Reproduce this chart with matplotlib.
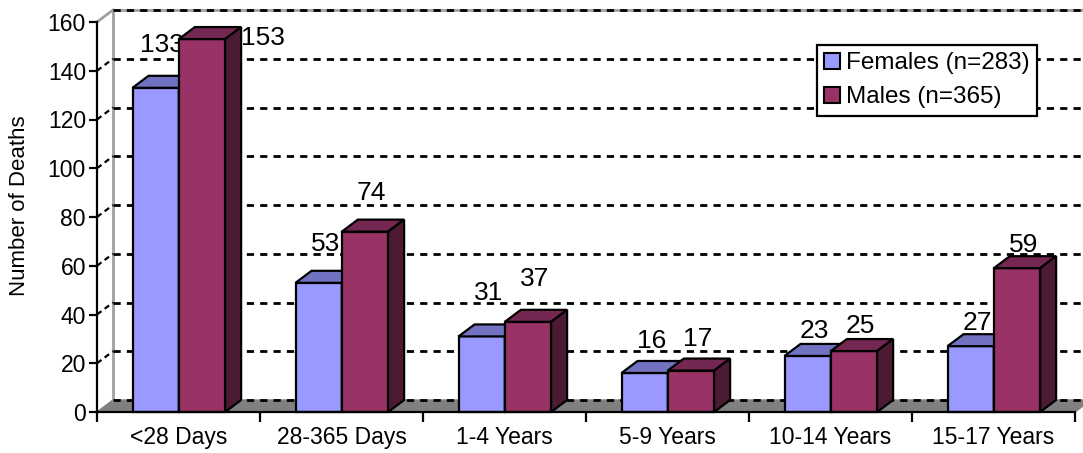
import matplotlib
matplotlib.use("Agg")
import matplotlib.pyplot as plt
from matplotlib.patches import Polygon, Rectangle

plt.rcParams['font.family'] = ['Liberation Sans', 'DejaVu Sans']

# data
categories = ["<28 Days", "28-365 Days", "1-4 Years", "5-9 Years", "10-14 Years", "15-17 Years"]
females = [133, 53, 31, 16, 23, 27]
males = [153, 74, 37, 17, 25, 59]
female_label = "Females (n=283)"
male_label = "Males (n=365)"
y_ticks = [0, 20, 40, 60, 80, 100, 120, 140, 160]

# colours
fem_front, fem_top, fem_side = "#9999FF", "#7272C2", "#4C4C80"
mal_front, mal_top, mal_side = "#993366", "#742851", "#4D1A33"

W, H = 1083, 453
fig = plt.figure(figsize=(W / 100, H / 100), dpi=100)
ax = fig.add_axes([97 / W, 41 / H, 978 / W, 390 / H])
ax.set_xlim(0, len(categories))
ax.set_ylim(0, 160)

# fake 3d depth (in data units)
dx = 16 / 163
dy = 12 / 2.4375
n = len(categories)

# floor
ax.add_patch(Polygon([(0, 0), (n, 0), (n + dx, dy), (dx, dy)], closed=True,
                     facecolor="#808080", edgecolor="#808080", lw=1, zorder=1, clip_on=False))

# walls
ax.plot([dx, dx], [dy, 160 + dy], color="#A0A0A0", lw=2, zorder=1.5, clip_on=False)
ax.plot([0, dx], [160, 160 + dy], color="#A0A0A0", lw=2, zorder=1.5, clip_on=False)
ax.plot([dx, n + dx], [160 + dy, 160 + dy], color="#A0A0A0", lw=2, zorder=1.5, clip_on=False)

# gridlines on back and side wall
for v in y_ticks:
    ax.plot([dx, n + dx], [v + dy, v + dy], color="black", lw=2,
            linestyle=(0, (2.6, 2.2)), zorder=2, clip_on=False)
    if 0 < v < 160:
        ax.plot([0, dx], [v, v + dy], color="black", lw=1.6,
                linestyle=(0, (2.5, 1.8)), zorder=2, clip_on=False)


def bar3d(x0, w, h, cf, ct, cs, z):
    kw = dict(edgecolor="black", lw=1.6, joinstyle="miter", clip_on=False, zorder=z)
    ax.add_patch(Rectangle((x0, 0), w, h, facecolor=cf, **kw))
    ax.add_patch(Polygon([(x0, h), (x0 + w, h), (x0 + w + dx, h + dy), (x0 + dx, h + dy)],
                         closed=True, facecolor=ct, **kw))
    ax.add_patch(Polygon([(x0 + w, 0), (x0 + w + dx, dy), (x0 + w + dx, h + dy), (x0 + w, h)],
                         closed=True, facecolor=cs, **kw))


bw = 0.284
start = 0.218
# how far above the bar Excel put the numbers (points), per category
lift = [31, 28, 31, 23, 18, 17]

for i in range(n):
    xf = i + start
    xm = xf + bw
    bar3d(xf, bw, females[i], fem_front, fem_top, fem_side, 3 + i)
    bar3d(xm, bw, males[i], mal_front, mal_top, mal_side, 3.5 + i)
    for x0, v in [(xf, females[i]), (xm, males[i])]:
        if v + 15 > 160:
            ax.annotate(str(v), (x0 + bw + dx, v), xytext=(0, 1), textcoords="offset points",
                        ha="left", va="center", fontsize=19, zorder=20)
        else:
            ax.annotate(str(v), (x0 + bw / 2 + dx / 2, v), xytext=(-1, lift[i]),
                        textcoords="offset points", ha="center", va="center",
                        fontsize=19, zorder=3 + i + 0.2)

# axes
for s in ["top", "right"]:
    ax.spines[s].set_visible(False)
ax.spines["left"].set_linewidth(1.6)
ax.spines["bottom"].set_linewidth(1.6)
ax.spines["left"].set_zorder(30)
ax.spines["bottom"].set_zorder(30)
ax.set_yticks(y_ticks)
ax.tick_params(axis="y", labelsize=16.5, length=6, width=1.6, pad=2)
ax.set_xticks(range(n + 1))
ax.set_xticklabels([])
ax.set_xticks([i + 0.5 for i in range(n)], minor=True)
ax.set_xticklabels(categories, minor=True)
ax.tick_params(axis="x", which="major", length=7, width=1.6)
ax.tick_params(axis="x", which="minor", length=0, labelsize=16.5, pad=10)
ax.set_ylabel("Number of Deaths", fontsize=16)
ax.yaxis.set_label_coords(-0.068, 0.53)
ax.patch.set_visible(False)

# legend
handles = [Rectangle((0, 0), 1, 1, facecolor=fem_front, edgecolor="black", lw=1.5),
           Rectangle((0, 0), 1, 1, facecolor=mal_front, edgecolor="black", lw=1.5)]
leg = fig.legend(handles, [female_label, male_label], loc="upper left",
                 bbox_to_anchor=(817 / W, 1 - 45 / H), fontsize=17.5, frameon=True,
                 fancybox=False, edgecolor="black", framealpha=1, borderaxespad=0,
                 handlelength=0.66, handleheight=0.66, handletextpad=0.25,
                 labelspacing=0.5, borderpad=0.3)
leg.get_frame().set_linewidth(1.6)
leg.set_zorder(40)

fig.savefig("out.png", dpi=100)
